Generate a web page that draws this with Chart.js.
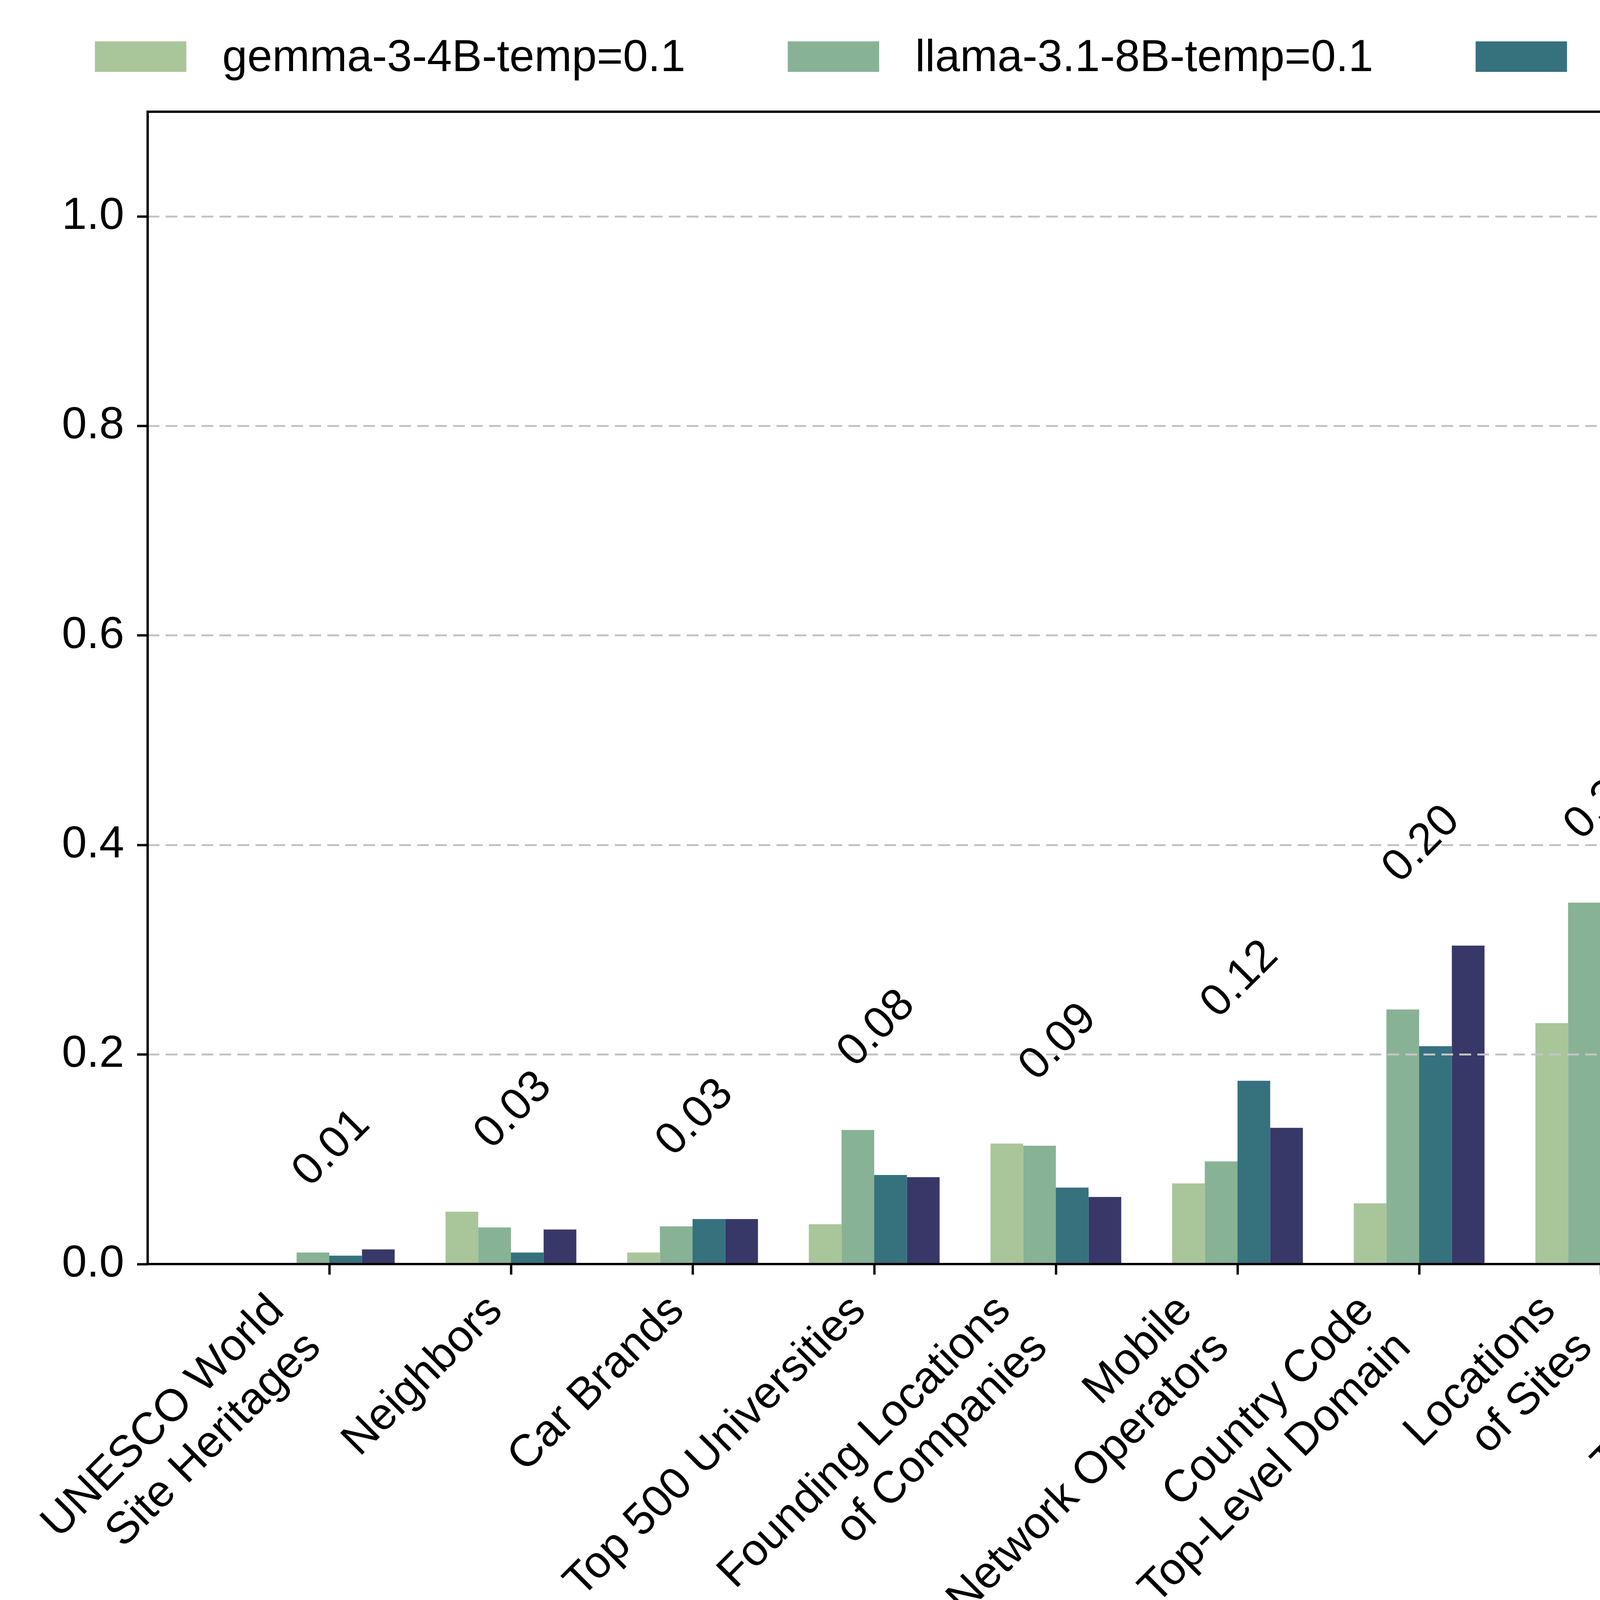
<!DOCTYPE html>
<html>
<head>
<meta charset="utf-8">
<title>Accuracy by relation</title>
<script src="https://cdn.jsdelivr.net/npm/chart.js@4.4.1/dist/chart.umd.min.js"></script>
<style>
  html, body { margin: 0; padding: 0; background: #ffffff; }
  canvas { display: block; }
</style>
</head>
<body>
<canvas id="accuracy-bars" width="7131" height="4243"></canvas>
<script>
// categories (one entry per group, lines of the rotated tick label)
const categories = [
  ["UNESCO World", "Site Heritages"],
  ["Neighbors"],
  ["Car Brands"],
  ["Top 500 Universities"],
  ["Founding Locations", "of Companies"],
  ["Mobile", "Network Operators"],
  ["Country Code", "Top-Level Domain"],
  ["Locations", "of Sites"],
  ["Time Zones"],
  ["Capital Cities"],
  ["Polyglot", "Celebrities"],
  ["Original Languages", "of Books"],
  ["Official Languages"],
];

const seriesNames = [
  "gemma-3-4B-temp=0.1",
  "llama-3.1-8B-temp=0.1",
  "qwen-2.5-3B-temp=0.1",
  "qwen-2.5-7B-temp=0.1",
];
const seriesColors = ["#a9c59a", "#88b295", "#36717e", "#383868"];

const gemmaValues = [0.0, 0.050, 0.011, 0.038, 0.115, 0.077, 0.058, 0.230, 0.184, 0.881, 0.674, 0.640, 0.650];
const llamaValues = [0.011, 0.035, 0.036, 0.128, 0.113, 0.098, 0.243, 0.345, 0.381, 0.490, 0.870, 0.877, 0.931];
const qwen3bValues = [0.008, 0.011, 0.043, 0.085, 0.073, 0.175, 0.208, 0.158, 0.378, 0.733, 0.868, 0.901, 0.943];
const qwen7bValues = [0.014, 0.033, 0.043, 0.083, 0.064, 0.130, 0.304, 0.259, 0.479, 0.660, 0.858, 0.899, 0.893];

// group averages printed above each group
const groupLabels = ["0.01", "0.03", "0.03", "0.08", "0.09", "0.12", "0.20", "0.25", "0.36", "0.69", "0.82", "0.83", "0.85"];

const yTicks = [0.0, 0.2, 0.4, 0.6, 0.8, 1.0];
const yMax = 1.1;

// layout (pixels)
const W = 7131;
const H = 4243;
const PLOT_LEFT = 378;
const PLOT_RIGHT = 6888;
const PLOT_TOP = 286;
const PLOT_BOTTOM = 3236;
const FONT_SIZE = 115;
const FONT = `${FONT_SIZE}px "Liberation Sans", Arial, Helvetica, sans-serif`;
const CAP = FONT_SIZE * 0.716;

// one empty slot on each side so the groups sit a full step from the frame
const pad = (arr) => [null, ...arr, null];
const slotLabels = pad(categories.map((c) => c.join(" "))).map((l) => l || "");

let frame = {
  id: "frame",
  afterDraw(chart) {
    const ctx = chart.ctx;
    const a = chart.chartArea;
    ctx.save();
    ctx.strokeStyle = "#000000";
    ctx.lineWidth = 6;
    ctx.strokeRect(a.left, a.top, a.right - a.left, a.bottom - a.top);
    ctx.restore();
  },
};

let groupLabelPlugin = {
  id: "groupLabels",
  afterDraw(chart) {
    const ctx = chart.ctx;
    const xs = chart.scales.x;
    const ys = chart.scales.y;
    ctx.save();
    ctx.font = FONT;
    ctx.fillStyle = "#000000";
    ctx.textAlign = "center";
    ctx.textBaseline = "alphabetic";
    groupLabels.forEach((label, i) => {
      const top = Math.max(gemmaValues[i], llamaValues[i], qwen3bValues[i], qwen7bValues[i]);
      const cx = xs.getPixelForValue(i + 1);
      const cy = ys.getPixelForValue(top + 0.099);
      ctx.save();
      ctx.translate(cx, cy);
      ctx.rotate(-Math.PI / 4);
      ctx.fillText(label, 0, CAP / 2);
      ctx.restore();
    });
    ctx.restore();
  },
};

let categoryLabelPlugin = {
  id: "categoryLabels",
  afterDraw(chart) {
    const ctx = chart.ctx;
    const xs = chart.scales.x;
    const lineH = 133;
    const descent = FONT_SIZE * 0.21;
    const s = Math.SQRT1_2;
    ctx.save();
    ctx.font = FONT;
    ctx.fillStyle = "#000000";
    ctx.textAlign = "right";
    ctx.textBaseline = "alphabetic";
    categories.forEach((lines, i) => {
      const tickX = xs.getPixelForValue(i + 1);
      const ax = tickX - ((lines.length - 1) * lineH + descent) * s;
      const ay = chart.chartArea.bottom + 124;
      ctx.save();
      ctx.translate(ax, ay);
      ctx.rotate(-Math.PI / 4);
      lines.forEach((line, j) => ctx.fillText(line, 0, j * lineH));
      ctx.restore();
    });
    ctx.restore();
  },
};

let legendPlugin = {
  id: "topLegend",
  afterDraw(chart) {
    const ctx = chart.ctx;
    ctx.save();
    ctx.font = FONT;
    ctx.textAlign = "left";
    ctx.textBaseline = "alphabetic";
    let x = 243;
    chart.data.datasets.forEach((ds) => {
      ctx.fillStyle = ds.backgroundColor;
      ctx.fillRect(x, 106, 234, 78);
      ctx.fillStyle = "#000000";
      ctx.fillText(ds.label, x + 234 + 92, 182);
      x += 234 + 92 + ctx.measureText(ds.label).width + 262;
    });
    ctx.restore();
  },
};

let makeAccuracyChart = () => {
  const canvas = document.getElementById("accuracy-bars");
  const valueSets = [gemmaValues, llamaValues, qwen3bValues, qwen7bValues];

  return new Chart(canvas.getContext("2d"), {
    type: "bar",
    data: {
      labels: slotLabels,
      datasets: valueSets.map((values, k) => ({
        label: seriesNames[k],
        data: pad(values),
        backgroundColor: seriesColors[k],
        borderWidth: 0,
        categoryPercentage: 0.72,
        barPercentage: 1.0,
      })),
    },
    options: {
      responsive: false,
      animation: false,
      devicePixelRatio: 1,
      layout: {
        padding: { top: PLOT_TOP, right: W - PLOT_RIGHT, bottom: 0, left: 0 },
      },
      plugins: {
        legend: { display: false },
        tooltip: { enabled: false },
      },
      scales: {
        x: {
          type: "category",
          offset: false,
          grid: {
            display: true,
            drawOnChartArea: false,
            drawTicks: true,
            offset: false,
            tickLength: 27,
            tickWidth: 6,
            tickColor: (c) =>
              c.index === 0 || c.index === slotLabels.length - 1 ? "rgba(0,0,0,0)" : "#000000",
          },
          border: { display: false },
          ticks: { display: false, autoSkip: false },
          afterFit: (scale) => {
            scale.height = H - PLOT_BOTTOM;
          },
        },
        y: {
          min: 0,
          max: yMax,
          afterBuildTicks: (scale) => {
            scale.ticks = yTicks.map((v) => ({ value: v }));
          },
          ticks: {
            font: { family: '"Liberation Sans", Arial, sans-serif', size: FONT_SIZE },
            color: "#000000",
            padding: 33,
            callback: (v) => Number(v).toFixed(1),
          },
          grid: {
            color: "#c4c4c4",
            lineWidth: 5,
            tickLength: 27,
            tickWidth: 6,
            tickColor: "#000000",
            tickBorderDash: [],
            borderDash: [30, 16],
            z: 1,
          },
          border: { display: false, dash: [30, 16] },
          afterFit: (scale) => {
            scale.width = PLOT_LEFT;
          },
        },
      },
    },
    plugins: [frame, groupLabelPlugin, categoryLabelPlugin, legendPlugin],
  });
};

makeAccuracyChart();
</script>
</body>
</html>
